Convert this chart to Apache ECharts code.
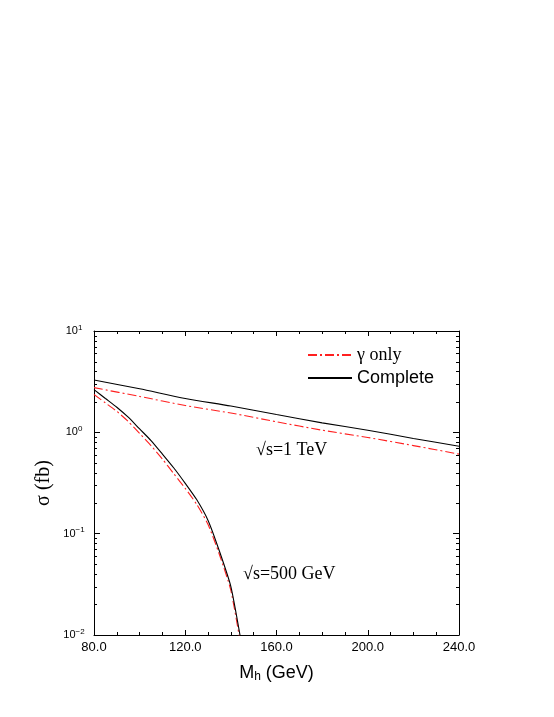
<!DOCTYPE html>
<html>
<head>
<meta charset="utf-8">
<script src="https://cdn.jsdelivr.net/npm/echarts@6/dist/echarts.min.js"></script>
<style>
  html, body { margin: 0; padding: 0; background: #fff; }
  #chart { width: 554px; height: 717px; }
</style>
</head>
<body>
<div id="chart"></div>
<script>
// sqrt(s) = 1 TeV
const mass1TeV = [80, 100, 120, 140, 160, 180, 200, 220, 240]
const complete1TeV = [3.29, 2.69, 2.16, 1.82, 1.50, 1.24, 1.05, 0.87, 0.73]
const gamma1TeV = [2.76, 2.26, 1.84, 1.55, 1.27, 1.05, 0.89, 0.74, 0.61]

// sqrt(s) = 500 GeV
const mass500 = [80, 85, 90, 95, 100, 105, 110, 115, 120, 125, 130, 135, 140, 145]
const complete500 = [2.64, 2.16, 1.77, 1.41, 1.08, 0.83, 0.61, 0.445, 0.314, 0.217, 0.135, 0.067, 0.030, 0.0074]
const gamma500 = [2.36, 1.95, 1.61, 1.28, 0.975, 0.738, 0.545, 0.39, 0.28, 0.195, 0.123, 0.062, 0.0275, 0.0065]

const yMinorMult = [2, 3, 4, 5, 6, 7, 8, 9]
const yDecades = [-2, -1, 0]

const zip = (xs, ys) => xs.map((x, i) => [x, ys[i]])

const sansFont = '"Liberation Sans", Arial, sans-serif'
const serifFont = '"Liberation Serif", "Times New Roman", serif'
const red = '#ff2020'
const dashDot = [9, 3, 2, 3]

const chart = echarts.init(document.getElementById('chart'))

const tickStyle = { color: '#000', width: 1 }
const xBase = {
  type: 'value',
  min: 80,
  max: 240,
  interval: 40,
  axisLine: { show: true, onZero: false, lineStyle: { color: '#000', width: 1 } },
  axisTick: { show: true, inside: true, length: 5, lineStyle: tickStyle },
  minorTick: { show: true, splitNumber: 4, length: 3, lineStyle: tickStyle },
  splitLine: { show: false }
}
const yBase = {
  type: 'log',
  logBase: 10,
  min: 0.01,
  max: 10,
  axisLine: { show: true, lineStyle: { color: '#000', width: 1 } },
  axisTick: { show: true, inside: true, length: 6, lineStyle: tickStyle },
  splitLine: { show: false }
}

chart.setOption({
  animation: false,
  backgroundColor: '#fff',
  grid: { left: 94, right: 95, top: 331, bottom: 82 },
  xAxis: [
    Object.assign({}, xBase, {
      position: 'bottom',
      name: 'M{sub|h} (GeV)',
      nameLocation: 'middle',
      nameGap: 28,
      nameTextStyle: {
        fontFamily: sansFont,
        fontSize: 18,
        color: '#000',
        rich: { sub: { fontFamily: sansFont, fontSize: 12, color: '#000', verticalAlign: 'bottom', padding: [8, 0, 0, 0] } }
      },
      axisLabel: {
        margin: 6,
        fontFamily: sansFont,
        fontSize: 13,
        color: '#000',
        formatter: v => v.toFixed(1)
      }
    }),
    Object.assign({}, xBase, { position: 'top', axisLabel: { show: false } })
  ],
  yAxis: [
    Object.assign({}, yBase, {
      position: 'left',
      name: 'σ (fb)',
      nameLocation: 'middle',
      nameGap: 40,
      nameRotate: 90,
      nameMoveOverlap: false,
      nameTextStyle: { fontFamily: serifFont, fontSize: 20, color: '#000' },
      axisLabel: {
        margin: 20,
        align: 'center',
        fontFamily: sansFont,
        fontSize: 11,
        color: '#000',
        formatter: v => {
          const e = Math.round(Math.log10(v))
          return '10{sup|' + (e < 0 ? '\u2212' + (-e) : e) + '}'
        },
        rich: { sup: { fontFamily: sansFont, fontSize: 8, color: '#000', verticalAlign: 'top', padding: [0, 0, 7, 0] } }
      }
    }),
    Object.assign({}, yBase, { position: 'right', axisLabel: { show: false } })
  ],
  legend: {
    orient: 'vertical',
    left: 302,
    top: 341,
    itemWidth: 44,
    itemHeight: 14,
    itemGap: 5,
    selectedMode: false,
    itemStyle: { opacity: 0 },
    data: ['γ only', 'Complete'],
    formatter: name => name === 'γ only' ? '{s|' + name + '}' : '{n|' + name + '}',
    textStyle: {
      color: '#000',
      rich: {
        s: { fontFamily: serifFont, fontSize: 18, lineHeight: 18, color: '#000' },
        n: { fontFamily: sansFont, fontSize: 18, lineHeight: 18, color: '#000' }
      }
    }
  },
  series: [
    {
      name: 'γ only',
      type: 'line',
      data: zip(mass1TeV, gamma1TeV),
      symbol: 'none',
      smooth: 0.25,
      color: red,
      lineStyle: { color: red, width: 1.1, type: dashDot },
      clip: true
    },
    {
      name: 'Complete',
      type: 'line',
      data: zip(mass1TeV, complete1TeV),
      symbol: 'none',
      smooth: 0.25,
      color: '#000',
      lineStyle: { color: '#000', width: 1.1 },
      clip: true
    },
    {
      name: 'γ only',
      type: 'line',
      data: zip(mass500, gamma500),
      symbol: 'none',
      smooth: 0.2,
      color: red,
      lineStyle: { color: red, width: 1.1, type: dashDot },
      clip: true
    },
    {
      name: 'Complete',
      type: 'line',
      data: zip(mass500, complete500),
      symbol: 'none',
      smooth: 0.2,
      color: '#000',
      lineStyle: { color: '#000', width: 1.1 },
      clip: true
    }
  ]
})

// annotations + log-axis minor ticks (2..9 per decade) on left and right sides
const xl = chart.convertToPixel({ xAxisIndex: 0 }, 80)
const xr = chart.convertToPixel({ xAxisIndex: 0 }, 240)
const extras = [
  {
    type: 'text',
    x: 256,
    y: 441,
    silent: true,
    style: { text: '√s=1 TeV', fontFamily: serifFont, fontSize: 18, fontWeight: 'normal', fill: '#000' }
  },
  {
    type: 'text',
    x: 243,
    y: 565,
    silent: true,
    style: { text: '√s=500 GeV', fontFamily: serifFont, fontSize: 18, fontWeight: 'normal', fill: '#000' }
  }
]
yDecades.forEach(d => {
  yMinorMult.forEach(m => {
    const y = Math.round(chart.convertToPixel({ yAxisIndex: 0 }, m * Math.pow(10, d))) + 0.5
    extras.push({ type: 'line', silent: true, shape: { x1: xl, y1: y, x2: xl + 3, y2: y }, style: { stroke: '#000', lineWidth: 1 } })
    extras.push({ type: 'line', silent: true, shape: { x1: xr - 3, y1: y, x2: xr, y2: y }, style: { stroke: '#000', lineWidth: 1 } })
  })
})
chart.setOption({ graphic: extras })
</script>
</body>
</html>
